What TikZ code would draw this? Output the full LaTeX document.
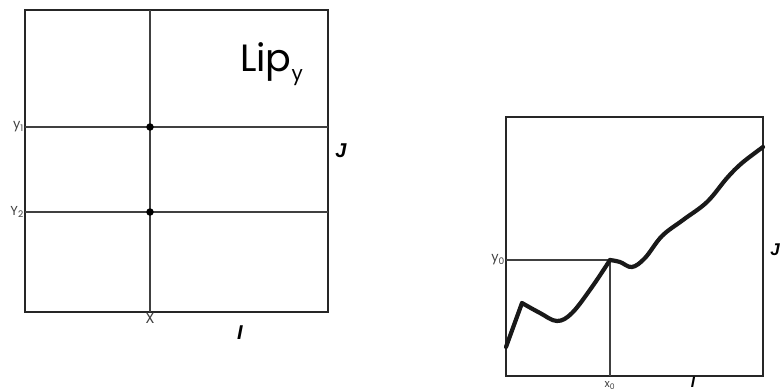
\documentclass[tikz,border=0pt]{standalone}
\usepackage{fontspec}
\setmainfont{Poppins}
\newfontfamily\labelfont{Liberation Sans}
\begin{document}
\begin{tikzpicture}[
 x=1pt,y=-1pt,
 frame/.style={draw=black!85,line width=2.6pt},
 frametwo/.style={draw=black!85,line width=2pt},
 gridline/.style={draw=black!75,line width=1.3pt},
 dot/.style={circle,fill=black,inner sep=0pt,minimum size=7.5pt},
 curve/.style={draw=black!90,line width=4.2pt,line join=round,line cap=round},
 axislbl/.style={font=\labelfont\bfseries\itshape\fontsize{20}{20}\selectfont},
 ticklbl/.style={font=\fontsize{13}{13}\selectfont,text=black!75,inner sep=1pt}]
\useasboundingbox (0,0) rectangle (780,391);
% left panel
\draw[frame] (25,10) rectangle (328,312);
\coordinate (xt) at (150,10); \coordinate (xb) at (150,312);
\coordinate (y1l) at (25,127); \coordinate (y1r) at (328,127);
\coordinate (y2l) at (25,212); \coordinate (y2r) at (328,212);
\draw[gridline] (xt)--(xb);
\draw[gridline] (y1l)--(y1r);
\draw[gridline] (y2l)--(y2r);
\node[dot] (p1) at (150,127) {};
\node[dot] (p2) at (150,212) {};
\node[anchor=base west,font=\fontsize{38}{38}\selectfont,inner sep=0pt] (lip) at (240,71) {Lip\raisebox{-0.45ex}{\fontsize{20}{20}\selectfont y}};
\node[ticklbl,anchor=east] (ly1) at (y1l) {y\textsubscript{1}};
\node[ticklbl,anchor=east] (ly2) at (y2l) {Y\textsubscript{2}};
\node[ticklbl,anchor=north,font=\fontsize{15}{15}\selectfont] (lx) at (xb) {X};
\node[axislbl] (li) at (240,333) {I};
\node[axislbl] (lj) at (341,151) {J};
% right panel
\draw[frametwo] (506,117) rectangle (763,376);
\coordinate (x0t) at (610,260); \coordinate (x0b) at (610,376);
\coordinate (y0l) at (506,260);
\draw[gridline,line width=1.6pt] (y0l)--(x0t)--(x0b);
\draw[curve] (506,347) -- (522,303)
  plot[smooth,tension=0.6] coordinates {(522,303) (540,313) (557,321) (572,313) (592,287) (610,260)};
\draw[curve] plot[smooth,tension=0.6] coordinates {(610,260) (620,262) (632,267) (645,258) (662,236) (683,220) (707,202) (727,178) (742,163) (763,147)};
\node[ticklbl,anchor=east] (ly0) at (y0l) {y\textsubscript{0}};
\node[ticklbl,anchor=south,font=\fontsize{11}{11}\selectfont] (lx0) at (610,391) {x\textsubscript{0}};
\node[axislbl,anchor=south,inner sep=1pt,font=\labelfont\bfseries\itshape\fontsize{15}{15}\selectfont] (ri) at (693,389) {I};
\node[axislbl,anchor=east,inner sep=0pt,font=\labelfont\bfseries\itshape\fontsize{17}{17}\selectfont] (rj) at (780,250) {J};
\end{tikzpicture}
\end{document}
